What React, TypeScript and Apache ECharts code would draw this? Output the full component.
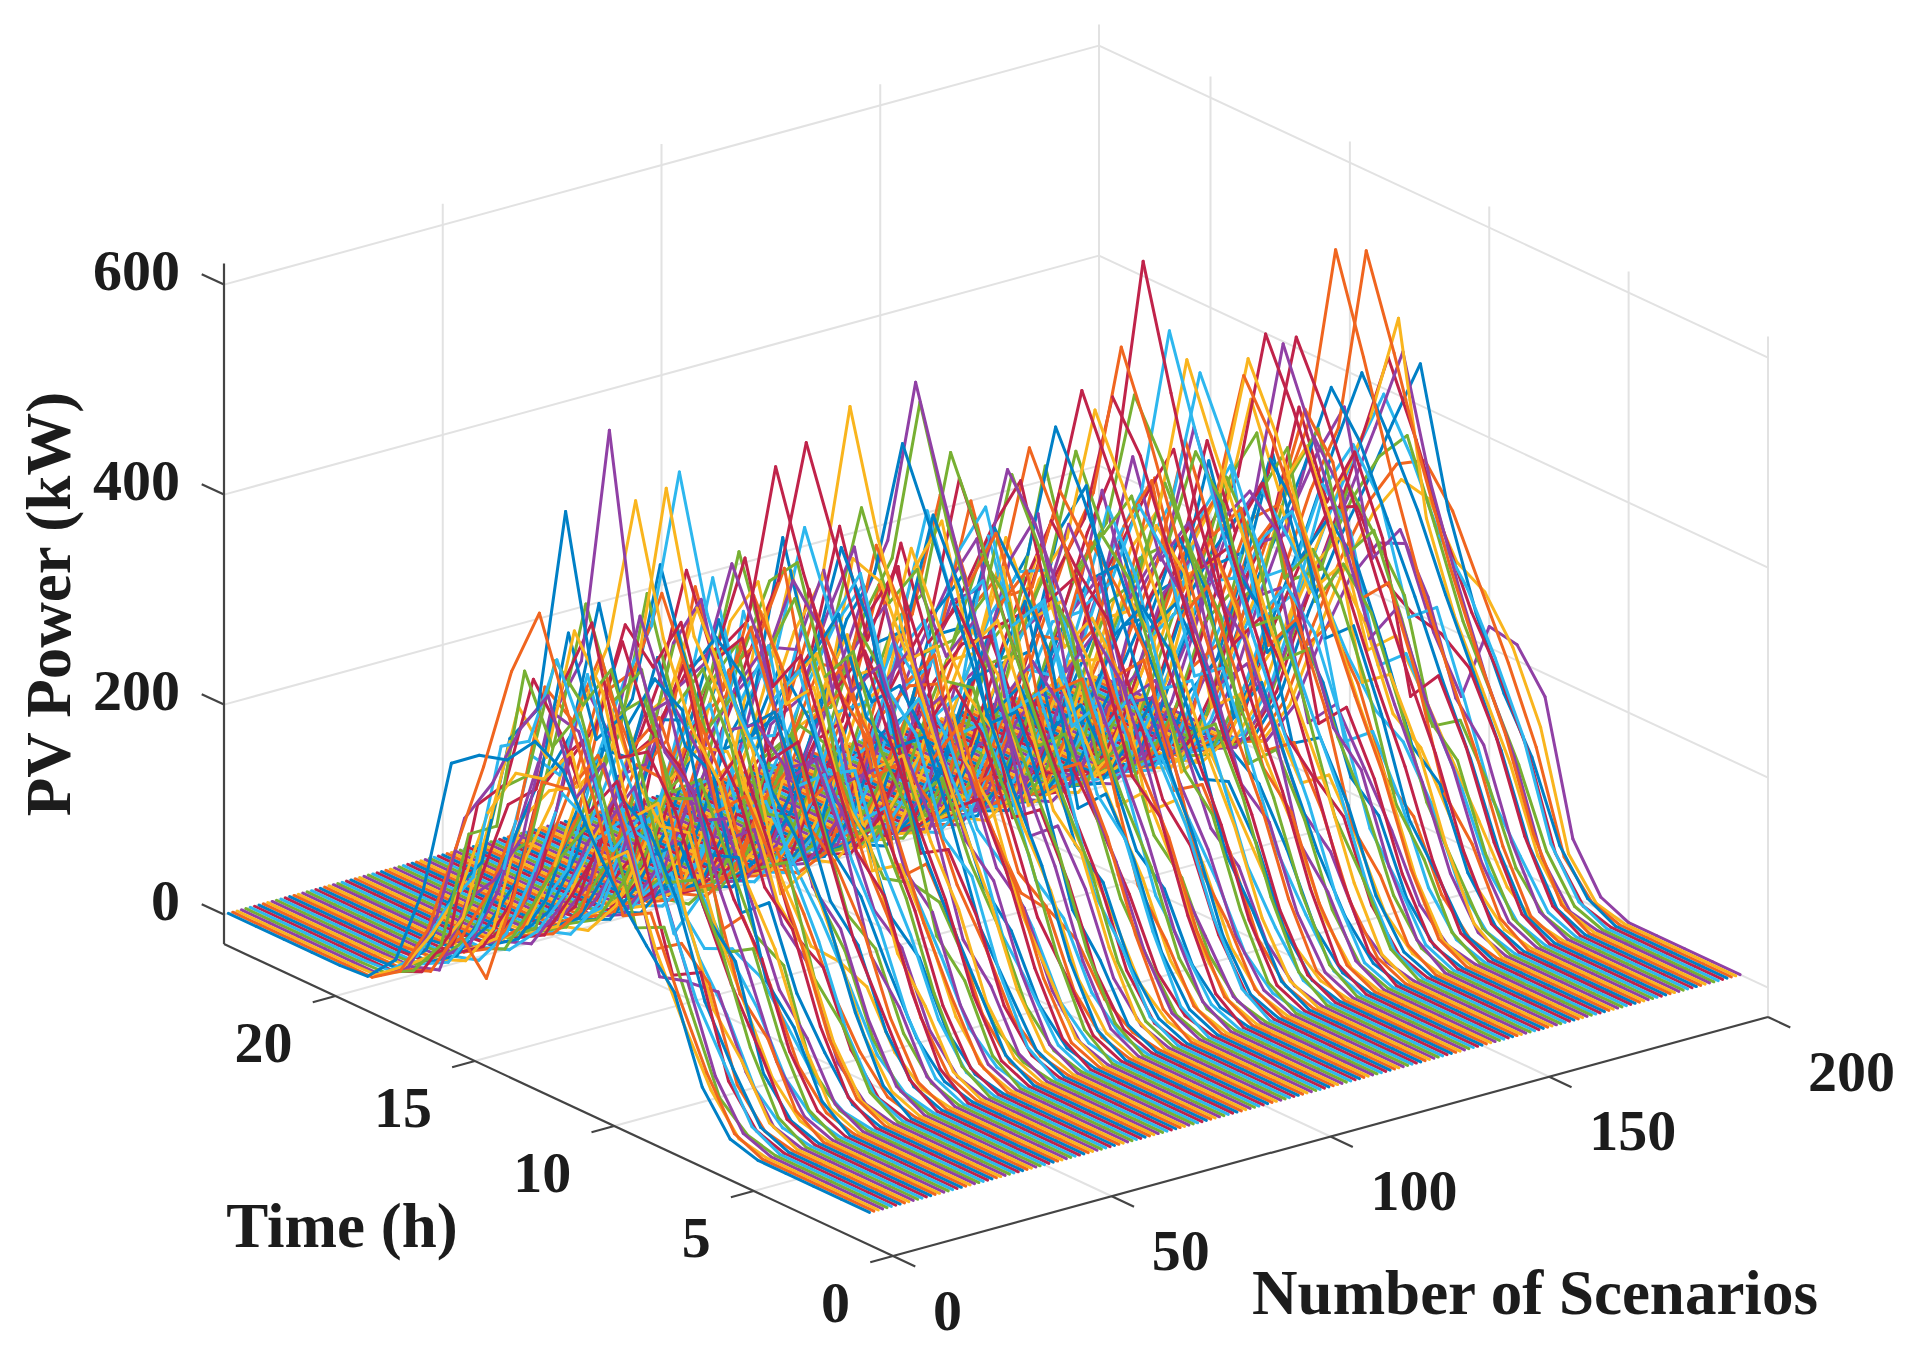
import React, { useEffect, useRef } from "react";
import * as echarts from "echarts";

// Hour of day for every point of a scenario (1..24); only hours 6..19 are above zero.
const hours = [1,2,3,4,5,6,7,8,9,10,11,12,13,14,15,16,17,18,19,20,21,22,23,24];
const firstDaylightHour = 6;

const scenarios001to020 = [
[8,45,123,155,190,235,285,300,270,262,242,110,30,2],
[12,58,118,185,170,265,340,421,353,250,160,70,18,0],
[6,40,92,150,230,205,300,262,255,205,118,65,22,1],
[10,52,130,122,222,300,255,340,296,232,186,80,20,0],
[7,30,98,168,155,248,335,290,350,190,170,52,15,1],
[14,62,110,182,260,215,310,372,282,265,128,85,28,2],
[9,44,135,120,215,280,238,300,340,228,196,60,12,0],
[11,55,106,190,245,262,362,511,310,270,140,100,32,1],
[6,38,122,148,130,232,290,245,240,120,28,60,10,0],
[13,60,96,175,268,240,350,395,262,298,180,72,26,2],
[8,48,112,108,185,270,222,298,305,174,120,88,9,0],
[16,70,148,205,190,292,368,322,352,230,205,84,24,1],
[5,30,88,130,198,165,260,350,242,248,128,58,14,0],
[12,66,116,178,255,300,282,398,330,215,188,105,30,2],
[9,42,136,166,224,200,322,286,375,225,152,72,18,0],
[18,74,104,196,178,310,280,365,290,310,172,90,34,3],
[7,36,94,152,232,226,264,330,226,210,170,54,11,0],
[10,50,122,186,270,295,372,577,345,282,185,88,26,1],
[15,68,144,128,262,250,360,318,398,268,148,118,36,2],
[6,32,86,124,170,120,210,268,188,204,118,46,8,0]
];

const scenarios021to040 = [
[12,56,132,176,240,280,300,372,275,240,192,74,20,1],
[20,78,110,215,205,330,348,290,395,258,200,92,38,3],
[8,40,104,158,128,244,310,268,322,218,136,64,16,0],
[11,62,138,188,272,312,384,503,352,276,178,110,24,1],
[14,64,98,170,236,222,322,392,262,302,170,76,22,2],
[7,34,120,136,198,260,236,312,284,168,124,66,12,0],
[4,22,60,96,110,98,130,175,182,150,88,40,10,0],
[17,72,152,180,260,306,395,340,368,262,214,100,40,3],
[9,46,90,164,142,262,276,348,240,236,158,68,18,0],
[13,58,136,200,252,225,338,408,322,290,160,94,28,2],
[10,54,128,162,246,330,378,507,330,232,190,98,30,1],
[6,33,112,140,218,196,268,304,276,186,130,56,10,0],
[16,68,100,198,180,286,345,296,392,246,174,112,24,2],
[12,60,134,192,276,322,396,519,360,294,206,92,42,2],
[8,42,108,126,204,276,225,334,255,220,125,66,15,0],
[19,76,154,212,250,345,372,325,416,276,220,104,36,3],
[7,38,84,144,194,160,240,296,210,212,134,48,14,0],
[11,52,124,186,150,274,328,385,290,254,168,98,20,1],
[15,66,140,168,270,298,280,392,338,210,186,72,28,2],
[9,47,118,158,220,212,312,265,350,232,128,70,17,0]
];

const scenarios041to060 = [
[6,30,84,134,176,222,200,290,248,160,126,50,9,0],
[18,72,126,206,290,260,364,330,404,284,198,118,34,3],
[10,50,120,150,232,305,278,368,260,248,150,80,22,1],
[13,62,136,186,210,290,372,300,386,228,184,90,26,2],
[5,28,78,90,92,140,196,240,232,190,112,44,8,0],
[16,70,106,204,268,248,356,418,310,274,194,86,32,2],
[9,44,112,132,214,280,245,340,288,188,150,66,16,0],
[12,58,130,182,252,228,350,285,390,258,140,106,26,1],
[20,80,160,190,272,352,310,420,322,292,230,88,42,3],
[7,36,88,146,176,242,282,248,300,214,122,58,13,0],
[11,54,126,178,250,210,326,382,274,242,164,96,19,1],
[14,64,102,194,228,318,290,394,344,226,190,74,30,2],
[8,40,106,130,202,250,218,328,278,216,118,62,14,0],
[17,74,152,208,186,314,388,322,408,280,210,102,36,3],
[10,48,116,170,248,232,318,276,350,180,156,70,18,1],
[13,60,138,196,262,334,410,499,340,300,210,116,40,2],
[6,34,92,118,190,204,272,308,230,204,112,54,11,0],
[15,66,124,198,274,306,268,400,316,278,188,94,28,2],
[9,46,114,166,148,264,330,288,345,190,152,68,16,0],
[12,56,132,160,244,220,352,386,298,256,176,108,24,1]
];

const scenarios061to080 = [
[19,78,108,214,260,342,306,402,372,288,202,84,38,3],
[7,32,88,138,205,178,266,340,224,208,128,52,12,0],
[12,62,140,200,268,344,432,514,370,292,204,112,36,2],
[16,68,120,176,258,276,362,308,410,252,192,98,30,2],
[8,42,110,160,134,254,300,352,250,222,148,64,15,0],
[11,52,128,180,250,225,340,268,376,250,146,102,22,1],
[14,66,98,190,246,322,285,388,300,290,182,78,28,2],
[5,26,72,120,126,118,164,220,226,186,106,42,7,0],
[18,76,156,180,266,296,395,338,414,286,228,104,34,3],
[9,44,118,168,152,270,320,272,354,208,160,72,19,0],
[13,58,104,188,262,240,346,405,290,252,178,96,25,2],
[6,30,86,132,200,224,198,294,250,170,124,48,10,0],
[10,56,130,192,260,338,424,537,360,298,206,110,38,1],
[15,70,146,172,256,330,282,402,324,232,196,80,32,2],
[8,38,102,150,218,186,286,322,236,218,138,60,13,0],
[12,54,92,176,228,280,235,364,314,244,166,92,20,1],
[17,72,150,208,186,318,392,310,406,276,220,98,30,3],
[7,36,94,124,194,238,278,250,300,206,120,56,12,0],
[11,60,136,186,264,218,344,398,268,260,180,106,27,1],
[14,64,112,196,230,326,300,362,372,218,186,76,29,2]
];

const scenarios081to100 = [
[9,46,112,138,216,276,240,338,290,228,150,66,15,0],
[20,80,162,220,296,290,384,340,418,294,230,116,44,3],
[6,32,90,136,160,230,270,302,232,210,110,52,11,0],
[12,58,100,178,250,284,232,372,318,200,168,98,21,1],
[16,70,148,206,272,346,420,488,352,296,202,88,34,2],
[8,40,108,128,208,180,298,260,340,220,144,62,14,0],
[11,50,122,172,248,272,324,386,262,240,162,74,18,1],
[14,66,144,204,276,356,446,543,380,304,212,114,40,2],
[18,74,154,212,270,338,418,523,362,296,198,100,32,3],
[7,34,92,116,196,240,215,314,268,170,136,58,12,0],
[10,52,126,182,162,292,338,292,374,252,174,104,24,1],
[13,62,98,192,262,238,352,412,290,266,184,70,26,2],
[5,24,68,84,88,134,188,250,236,196,110,40,8,0],
[16,72,150,178,262,334,296,404,346,224,190,96,30,2],
[9,42,114,162,140,252,320,274,330,224,122,64,15,0],
[12,56,134,190,256,326,402,467,320,282,194,98,30,1],
[15,68,108,200,274,244,356,318,398,272,188,112,28,2],
[8,46,120,176,236,298,372,440,300,240,176,82,22,0],
[11,48,116,140,220,266,226,348,300,190,158,70,17,1],
[19,78,158,216,196,322,398,336,410,284,222,106,36,3]
];

const scenarios101to120 = [
[6,30,84,130,178,150,258,292,210,200,122,48,9,0],
[13,60,132,184,256,286,240,378,324,254,178,100,25,2],
[10,50,96,174,228,204,328,362,268,244,140,76,20,1],
[17,76,152,182,266,340,306,406,350,230,196,102,34,3],
[7,36,98,148,192,176,220,282,262,214,138,58,13,0],
[12,54,130,180,154,288,342,384,278,258,176,84,24,1],
[14,64,104,198,276,252,354,308,396,270,186,110,28,2],
[9,44,110,160,214,262,230,344,250,230,128,68,16,0],
[16,70,146,208,270,334,396,436,310,286,198,86,32,2],
[8,44,118,170,230,294,372,430,300,252,170,78,20,0],
[11,52,90,176,248,214,322,268,358,196,160,72,18,1],
[20,82,164,190,278,356,320,422,366,296,234,118,44,3],
[6,34,94,118,188,232,198,306,232,206,112,54,11,0],
[15,66,142,194,256,320,392,451,320,276,190,96,28,2],
[10,48,116,172,146,270,316,288,352,238,156,92,17,1],
[13,58,102,186,262,296,248,386,330,218,182,74,26,2],
[7,38,100,128,204,172,288,324,240,216,120,60,14,0],
[18,72,148,200,248,200,262,330,316,264,186,94,30,3],
[12,56,128,160,238,308,338,376,276,250,172,104,23,1],
[10,54,132,194,262,340,408,464,330,270,186,92,26,1]
];

const scenarios121to140 = [
[14,66,106,202,278,250,362,402,298,276,192,80,30,2],
[8,40,106,156,132,250,292,252,326,222,144,62,14,0],
[11,50,120,170,240,222,318,368,270,234,124,96,16,1],
[17,74,152,182,264,340,370,312,410,262,216,104,34,3],
[6,32,88,134,182,158,266,298,210,204,128,50,10,0],
[12,62,140,202,274,352,428,492,360,288,200,104,32,1],
[15,68,112,206,280,310,270,400,344,218,194,100,30,2],
[9,42,112,164,146,264,312,346,240,232,152,66,15,0],
[13,60,136,194,264,336,410,470,336,284,192,94,26,2],
[7,36,96,120,190,236,206,310,264,180,134,56,12,0],
[19,78,160,218,196,326,398,350,416,290,228,112,40,3],
[10,48,94,172,246,226,320,374,262,240,162,90,19,1],
[14,64,142,204,278,358,434,478,350,286,198,100,32,2],
[8,44,114,160,150,196,252,316,290,230,150,66,16,0],
[16,72,150,212,286,366,450,523,372,300,208,108,36,2],
[5,28,80,128,176,142,256,288,212,198,120,46,9,0],
[12,56,130,154,236,304,338,282,372,248,170,100,22,1],
[18,74,152,212,276,348,424,474,340,286,200,104,34,3],
[11,52,98,176,250,230,332,368,282,246,146,78,20,1],
[16,76,156,220,294,378,486,599,392,316,218,116,40,2]
];

const scenarios141to160 = [
[7,38,100,150,170,242,284,246,318,214,138,58,13,0],
[13,60,134,164,244,312,268,388,332,224,184,104,27,2],
[9,46,114,166,220,196,312,344,250,230,128,70,16,0],
[15,68,102,204,272,304,358,310,396,272,188,94,28,2],
[10,50,124,178,152,280,326,382,278,244,160,72,18,1],
[11,60,138,202,272,350,436,526,360,296,202,106,32,1],
[20,80,162,190,270,344,312,412,356,292,232,114,42,3],
[8,40,90,154,226,180,290,328,240,218,146,62,14,0],
[12,54,128,180,160,284,336,274,370,250,172,98,23,1],
[14,70,148,210,276,352,420,494,340,290,196,100,30,2],
[6,30,86,112,180,228,196,304,258,168,126,50,10,0],
[17,72,118,206,284,262,366,404,304,278,194,82,32,3],
[13,64,142,204,272,344,416,478,344,284,196,98,30,2],
[9,44,116,140,222,268,230,350,300,236,128,68,17,0],
[11,52,126,178,160,270,300,392,268,240,166,96,20,1],
[16,70,104,206,278,240,358,320,398,270,190,76,29,2],
[7,34,92,140,120,170,236,296,270,212,132,56,12,0],
[19,76,156,184,268,346,372,332,408,284,224,110,38,3],
[10,48,120,174,246,222,322,372,266,242,164,92,19,1],
[12,58,98,186,260,292,250,382,326,216,178,74,25,1]
];

const scenarios161to180 = [
[15,66,144,200,172,306,376,318,392,268,186,92,28,2],
[8,42,108,132,210,254,214,334,284,220,124,64,15,0],
[14,68,146,208,276,350,418,464,336,280,192,108,30,2],
[11,60,136,198,268,342,420,479,340,278,186,90,26,1],
[6,32,90,138,186,156,272,250,306,206,130,52,11,0],
[17,74,114,210,284,320,280,406,350,226,196,102,34,3],
[9,46,116,170,148,270,316,352,254,238,160,86,18,0],
[14,70,148,212,284,364,438,498,350,290,200,106,34,2],
[12,56,96,184,256,232,340,378,276,252,174,84,24,1],
[7,36,98,122,200,244,208,320,272,176,140,60,13,0],
[20,82,162,220,200,330,400,346,420,294,232,116,42,3],
[10,54,128,190,258,336,414,484,330,280,190,94,28,1],
[13,60,108,190,264,298,250,384,328,222,180,88,26,2],
[8,40,106,152,170,210,262,322,286,224,148,64,14,0],
[15,72,152,216,284,360,430,487,346,290,198,102,32,2],
[11,50,122,146,226,296,326,276,362,244,142,98,19,1],
[18,76,112,212,288,260,378,416,312,286,200,80,36,3],
[6,34,92,142,162,236,276,240,310,208,134,54,11,0],
[12,58,134,188,262,220,348,388,282,262,160,104,26,1],
[14,64,140,166,250,322,286,394,336,226,188,72,28,2]
];

const scenarios181to200 = [
[9,44,112,164,216,192,308,340,250,228,152,66,15,0],
[16,72,150,206,174,312,382,322,400,274,208,98,30,2],
[13,64,138,200,268,330,392,430,340,262,190,100,30,2],
[12,66,146,212,284,372,470,560,380,296,204,104,32,1],
[5,26,76,124,172,216,190,286,244,170,118,44,8,0],
[14,68,148,180,264,316,276,408,350,278,192,96,30,2],
[9,42,110,158,140,252,294,332,240,218,142,78,14,0],
[11,52,94,176,252,230,328,370,318,206,172,82,21,1],
[16,70,150,206,226,232,250,310,296,234,160,70,18,2],
[12,60,138,200,262,330,386,436,352,262,180,90,26,1],
[15,70,152,216,288,372,466,551,370,298,206,108,34,2],
[9,48,124,182,240,320,498,392,320,240,160,72,18,0],
[6,44,128,190,266,352,465,380,300,226,148,62,14,0],
[10,50,120,176,232,310,384,352,298,232,154,68,16,1],
[13,56,146,208,262,300,362,410,342,268,184,88,25,2],
[8,46,132,190,238,302,378,444,350,256,170,76,19,0],
[14,52,124,172,236,322,449,380,306,240,164,74,18,2],
[9,40,132,200,260,320,356,340,292,226,150,66,15,0],
[7,42,150,214,254,270,318,324,280,218,142,60,13,0],
[12,55,178,215,220,141,190,262,250,204,136,58,12,1]
];

const scenarioProfiles = [
  ...scenarios001to020, ...scenarios021to040, ...scenarios041to060, ...scenarios061to080,
  ...scenarios081to100, ...scenarios101to120, ...scenarios121to140, ...scenarios141to160,
  ...scenarios161to180, ...scenarios181to200,
];

const powerTicks = [0, 200, 400, 600];
const timeTicks = [0, 5, 10, 15, 20];
const scenarioTicks = [0, 50, 100, 150, 200];
const scenarioMax = 200;
const timeMax = 24;
const powerMin = -28;
const powerMax = 620;

const lineColors = ["#0080C6", "#F0651F", "#F9B51E", "#9040A5", "#77B032", "#2DB7EE", "#C0234A"];
const gridColor = "#e2e2e2";
const axisColor = "#444444";
const textColor = "#1c1c1c";
const fontFamily = "'Liberation Serif', 'Times New Roman', serif";
const tickFontSize = 58;
const titleFontSize = 63;

// Orthographic view of the MATLAB box: (scenario, hour, power) to page position.
function project(s: number, t: number, z: number): [number, number] {
  return [893 + 4.375 * s - 27.875 * t, 1256 - 1.195 * s - 13 * t - 1.05 * (z - powerMin)];
}

// Distance from the viewer, so nearer line pieces are painted over farther ones as a depth buffer would.
function viewDepth(s: number, t: number, z: number): number {
  return 3.345 * s + 36.46 * t - 0.43 * z;
}

function segment(name: string, a: number[], b: number[], color: string, width: number) {
  return {
    name,
    type: "line",
    silent: true,
    symbol: "none",
    clip: false,
    animation: false,
    data: [project(a[0], a[1], a[2]), project(b[0], b[1], b[2])],
    lineStyle: { color, width },
    z: name.startsWith("grid") ? 1 : 3,
  };
}

function buildPieces() {
  const pieces: { depth: number; value: number[] }[] = [];
  scenarioProfiles.forEach((profile, i) => {
    const scenario = i + 1;
    const powerAt = (h: number) =>
      h >= firstDaylightHour && h < firstDaylightHour + profile.length ? profile[h - firstDaylightHour] : 0;
    hours.slice(1).forEach((h) => {
      const z0 = powerAt(h - 1);
      const z1 = powerAt(h);
      const a = project(scenario, h - 1, z0);
      const b = project(scenario, h, z1);
      pieces.push({
        depth: viewDepth(scenario, h - 0.5, (z0 + z1) / 2),
        value: [a[0], a[1], b[0], b[1], i % 7],
      });
    });
  });
  pieces.sort((p, q) => q.depth - p.depth);
  return pieces.map((p) => p.value);
}

function buildOption() {
  const series: any[] = [];
  for (const z of powerTicks) {
    series.push(segment(`grid-z-left-${z}`, [0, timeMax, z], [scenarioMax, timeMax, z], gridColor, 2));
    series.push(segment(`grid-z-right-${z}`, [scenarioMax, timeMax, z], [scenarioMax, 0, z], gridColor, 2));
  }
  for (const s of scenarioTicks.slice(1)) {
    series.push(segment(`grid-s-wall-${s}`, [s, timeMax, powerMin], [s, timeMax, powerMax], gridColor, 2));
    if (s < scenarioMax) series.push(segment(`grid-s-floor-${s}`, [s, 0, powerMin], [s, timeMax, powerMin], gridColor, 2));
  }
  for (const t of timeTicks) {
    series.push(segment(`grid-t-wall-${t}`, [scenarioMax, t, powerMin], [scenarioMax, t, powerMax], gridColor, 2));
    if (t > 0) series.push(segment(`grid-t-floor-${t}`, [0, t, powerMin], [scenarioMax, t, powerMin], gridColor, 2));
  }
  series.push(segment("axis-power", [0, timeMax, powerMin], [0, timeMax, powerMax], axisColor, 2.2));
  series.push(segment("axis-time", [0, 0, powerMin], [0, timeMax, powerMin], axisColor, 2.2));
  series.push(segment("axis-scenario", [0, 0, powerMin], [scenarioMax, 0, powerMin], axisColor, 2.2));
  for (const z of powerTicks) series.push(segment(`tick-z-${z}`, [0, timeMax, z], [0, timeMax + 0.8, z], axisColor, 2.2));
  for (const t of timeTicks) series.push(segment(`tick-t-${t}`, [0, t, powerMin], [-5.2, t, powerMin], axisColor, 2.2));
  for (const s of scenarioTicks) series.push(segment(`tick-s-${s}`, [s, 0, powerMin], [s, -0.8, powerMin], axisColor, 2.2));

  series.push({
    name: "PV power scenarios",
    type: "custom",
    silent: true,
    clip: false,
    animation: false,
    progressive: 0,
    z: 2,
    encode: { x: [0, 2], y: [1, 3] },
    data: buildPieces(),
    renderItem: (_params: any, api: any) => {
      const a = api.coord([api.value(0), api.value(1)]);
      const b = api.coord([api.value(2), api.value(3)]);
      return {
        type: "line",
        shape: { x1: a[0], y1: a[1], x2: b[0], y2: b[1] },
        style: { stroke: lineColors[api.value(4)], lineWidth: 3, lineCap: "round", fill: null },
      };
    },
  });

  const label = (text: string, x: number, y: number, align: string, size = tickFontSize, extra: any = {}) => ({
    type: "text",
    x,
    y,
    silent: true,
    style: { text, fill: textColor, font: `bold ${size}px ${fontFamily}`, textAlign: align, textVerticalAlign: "middle" },
    ...extra,
  });

  const graphic: any[] = [];
  for (const z of powerTicks) {
    const p = project(0, timeMax, z);
    graphic.push(label(String(z), 180, p[1] - 14, "right"));
  }
  for (const t of timeTicks) {
    const p = project(0, t, powerMin);
    graphic.push(label(String(t), p[0] - 43, p[1] + 46, "right"));
  }
  for (const s of scenarioTicks) {
    const p = project(s, 0, powerMin);
    graphic.push(label(String(s), p[0] + 40, p[1] + 54, "left"));
  }
  graphic.push(label("Time (h)", 342, 1226, "center", titleFontSize));
  graphic.push(label("Number of Scenarios", 1535, 1293, "center", titleFontSize));
  graphic.push(label("PV Power (kW)", 0, 0, "center", titleFontSize, { x: 49, y: 604, rotation: Math.PI / 2 }));

  return {
    animation: false,
    backgroundColor: "#ffffff",
    grid: { left: 0, right: 0, top: 0, bottom: 0 },
    xAxis: { type: "value", min: 0, max: 1907, show: false },
    yAxis: { type: "value", min: 0, max: 1358, inverse: true, show: false },
    series,
    graphic,
  };
}

export default function App() {
  const ref = useRef<HTMLDivElement>(null);
  useEffect(() => {
    const chart = echarts.init(ref.current!, undefined, { renderer: "svg" });
    chart.setOption(buildOption() as any);
    return () => chart.dispose();
  }, []);
  return <div ref={ref} style={{ position: "absolute", left: 0, top: 0, width: 1907, height: 1358 }} />;
}
